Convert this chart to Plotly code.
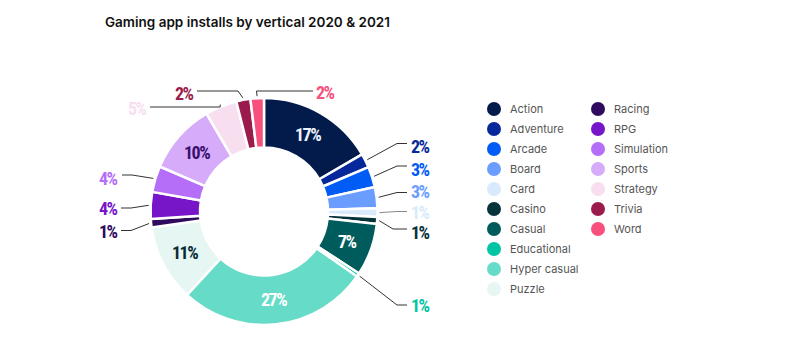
import math
import plotly.graph_objects as go

# ---------------- data ----------------
categories = ["Action", "Adventure", "Arcade", "Board", "Card", "Casino", "Casual",
              "Educational", "Hyper casual", "Puzzle", "Racing", "RPG", "Simulation",
              "Sports", "Strategy", "Trivia", "Word"]
shares = [16.5, 2.0, 2.9, 3.0, 1.2, 1.0, 7.4, 0.5, 27.0, 10.8, 1.2, 3.8, 3.7, 10.0, 4.5, 2.0, 1.9]
pct_labels = ["17%", "2%", "3%", "3%", "1%", "1%", "7%", "1%", "27%", "11%", "1%",
              "4%", "4%", "10%", "5%", "2%", "2%"]
colors = ["#021b4a", "#06289b", "#005cf5", "#6a9dff", "#d8eafb", "#06323a", "#005c5c",
          "#00c4a4", "#66dcc8", "#e6f6f3", "#2e0b5e", "#7616c8", "#b46ef8", "#d6acfa",
          "#f7dff0", "#9b1c4c", "#f7507c"]
title_text = "Gaming app installs by vertical 2020 & 2021"

# ---------------- layout constants (page pixels) ----------------
PW, PH = 788, 358          # browser window
OFF = 8                    # default body margin of the html page
W, H = PW - OFF, PH - OFF  # figure size so that it fits the window
CX, CY, R = 264, 211.5, 113.5
HOLE = 0.564
inside = {"Action": "#eef4ff", "Casual": "#ffffff", "Hyper casual": "#ffffff",
          "Puzzle": "#0a2a33", "Sports": "#3a0f6e"}
# outside label specs: name -> (text x, text y, xanchor, elbow x, elbow y, end x, end y)
outside = {
    "Adventure":   (409, 146.5, "left", 397, 143.5, 407, 143.5),
    "Arcade":      (409, 169.5, "left", 397, 166, 407, 166),
    "Board":       (409, 191.5, "left", 397, 192.5, 407, 192.5),
    "Card":        (409, 212, "left", 397, 211.5, 407, 211.5),
    "Casino":      (409, 232, "left", 393, 229, 407, 229),
    "Educational": (409, 305, "left", 397, 305, 407, 305),
    "Racing":      (120, 231, "right", 131, 230.5, 121, 230.5),
    "RPG":         (120, 208, "right", 131, 208, 121, 208),
    "Simulation":  (120, 178, "right", 132, 175, 122, 175),
    "Strategy":    (149, 108, "right", 180, 107, 150, 107),
    "Trivia":      (196, 93, "right", 238, 91, 197, 91),
    "Word":        (314, 92, "left", 256.5, 91, 313, 91),
}

total = sum(shares)
fig = go.Figure()

fig.add_trace(go.Pie(
    labels=categories, values=shares, sort=False, direction="clockwise", rotation=0,
    hole=HOLE, textinfo="none", hoverinfo="label+percent", showlegend=False,
    marker=dict(colors=colors, line=dict(color="white", width=2.5)),
    domain=dict(x=[(CX - R - OFF) / W, (CX + R - OFF) / W],
                y=[(PH - CY - R) / H, (PH - CY + R) / H]),
))

# hidden axes mapped to page pixels
fig.update_xaxes(range=[OFF, PW], visible=False, fixedrange=True)
fig.update_yaxes(range=[PH, OFF], visible=False, fixedrange=True)

label_font = "Roboto Condensed, Liberation Sans Narrow, DejaVu Sans Condensed, Roboto, sans-serif"


def pct_text(s):
    return f"<span style='letter-spacing:-1.5px'>{s}</span>"


annotations = []
shapes = []
cum = 0.0
for name, v, lab, col in zip(categories, shares, pct_labels, colors):
    mid = (cum + v / 2) / total * 2 * math.pi
    cum += v
    if name in inside:
        rm = R * (1 + HOLE) / 2
        x = CX + rm * math.sin(mid)
        y = CY - rm * math.cos(mid)
        annotations.append(dict(x=x, y=y, xref="x", yref="y", text=pct_text(lab), showarrow=False,
                                font=dict(family=label_font, size=18, color=inside[name],
                                          weight="bold")))
    elif name in outside:
        tx, ty, anc, ex, ey, px, py = outside[name]
        ra = R + 2
        ax = CX + ra * math.sin(mid)
        ay = CY - ra * math.cos(mid)
        if name == "Strategy":
            ex, ey = ax, py
        lc = "#888888" if name == "Card" else "#333333"
        shapes.append(dict(type="path", xref="x", yref="y",
                           path=f"M{ax:.1f},{ay:.1f} L{ex:.1f},{ey:.1f} L{px:.1f},{py:.1f}",
                           line=dict(color=lc, width=1)))
        annotations.append(dict(x=tx, y=ty, xref="x", yref="y", text=pct_text(lab), showarrow=False,
                                xanchor=anc, font=dict(family=label_font, size=18, color=col,
                                                       weight="bold")))

# legend (two columns, column-major)
rows_per_col = 10
for i, (name, col) in enumerate(zip(categories, colors)):
    c, r = divmod(i, rows_per_col)
    mx = 494 + c * 104
    my = 109 + r * 20
    shapes.append(dict(type="circle", xref="x", yref="y", x0=mx - 7, x1=mx + 7,
                       y0=my - 7, y1=my + 7, fillcolor=col, line=dict(width=0)))
    annotations.append(dict(x=mx + 13.5, y=my, xref="x", yref="y", text=name, showarrow=False,
                            xanchor="left", font=dict(family="Inter, sans-serif", size=11,
                                                      color="#555555")))

annotations.append(dict(x=103, y=22, xref="x", yref="y", text=title_text, showarrow=False,
                        xanchor="left", font=dict(family="Inter, sans-serif", size=13.5,
                                                  color="#111111", weight=600)))

fig.update_layout(width=W, height=H, margin=dict(l=0, r=0, t=0, b=0),
                  paper_bgcolor="white", plot_bgcolor="white",
                  annotations=annotations, shapes=shapes, showlegend=False)

fig.write_html("out.html")
